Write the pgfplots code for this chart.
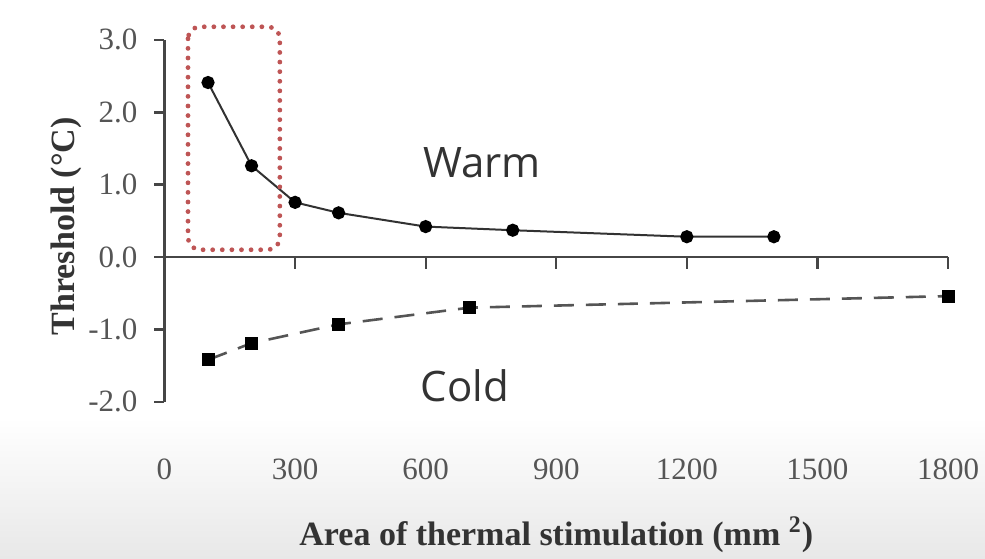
\documentclass[border=0pt]{standalone}
\usepackage{pgfplots}
\pgfplotsset{compat=1.18}
\usepackage{fontspec}
\setmainfont{Liberation Serif}
\newfontfamily\sansf{Open Sans}
\definecolor{axisgray}{RGB}{70,70,70}
\definecolor{labgray}{RGB}{85,85,85}
\definecolor{boxred}{RGB}{190,85,85}
\definecolor{linegray}{RGB}{50,50,50}
\definecolor{dashgray}{RGB}{85,85,85}
\begin{document}
\begin{tikzpicture}
\shade[top color=white, bottom color=black!9] (-82.25pt,-80pt) rectangle (410.25pt,-150.5pt);
\begin{axis}[
  at={(0,0)}, anchor=origin,
  scale only axis, width=391.75pt, height=181pt,
  xmin=0, xmax=1800, ymin=-2, ymax=3,
  clip=false,
  axis x line*=bottom, axis y line*=left,
  x axis line style={draw=none},
  y axis line style={draw=axisgray, line width=1.3pt},
  xtick={0,300,...,1800},
  ytick={-2,-1,0,1,2,3},
  xtick style={draw=none},
  ytick style={draw=axisgray, line width=1.3pt},
  tick align=outside,
  major tick length=5pt,
  /pgf/number format/assume math mode=true,
  tick label style={font=\fontsize{15.5}{15.5}\selectfont, text=labgray},
  xticklabel style={/pgf/number format/1000 sep={}, yshift=-20pt},
  yticklabel style={/pgf/number format/.cd, fixed, fixed zerofill, precision=1, /tikz/xshift=-5pt},
  xlabel={\textbf{Area of thermal stimulation (mm \textsuperscript{2})}},
  ylabel={\textbf{Threshold (°C)}},
  label style={font=\fontsize{17}{17}\selectfont, text=black!80},
  xlabel style={at={(axis description cs:0.5,-0.367)}, anchor=center},
  ylabel style={at={(axis description cs:-0.1258,0.485)}, anchor=center},
]
% x axis line at y = 0 with downward ticks
\draw[axisgray, line width=1.3pt] (axis cs:0,0) -- (axis cs:1800,0);
\pgfplotsinvokeforeach{300,600,900,1200,1500,1800}{
  \draw[axisgray, line width=1.1pt] (axis cs:#1,0) -- ([yshift=-6pt]axis cs:#1,0);
}
% warm
\addplot[linegray, line width=1pt, mark=*, mark size=2.8pt,
  mark options={fill=black, draw=black}] coordinates {
  (100,2.41) (200,1.26) (300,0.755) (400,0.61) (600,0.42) (800,0.37) (1200,0.28) (1400,0.28)
};
% cold
\addplot[dashgray, line width=1.3pt, dash pattern=on 10pt off 6pt, mark=square*, mark size=2.6pt,
  mark options={solid, fill=black, draw=black}] coordinates {
  (100,-1.42) (200,-1.19) (400,-0.93) (700,-0.70) (1800,-0.54)
};
\draw[boxred, line width=2.4pt, line cap=round, dash pattern=on 0pt off 4.8pt, rounded corners=6pt]
  (axis cs:54,3.18) rectangle (axis cs:265,0.10);
\node[font=\sansf\fontsize{21}{21}\selectfont, text=black!80] at (axis cs:729,1.30) {Warm};
\node[font=\sansf\fontsize{21}{21}\selectfont, text=black!80] at (axis cs:690,-1.78) {Cold};
\end{axis}
\pgfresetboundingbox
\path[use as bounding box] (-82.25pt,-150.5pt) rectangle (410.25pt,128.5pt);
\end{tikzpicture}
\end{document}
